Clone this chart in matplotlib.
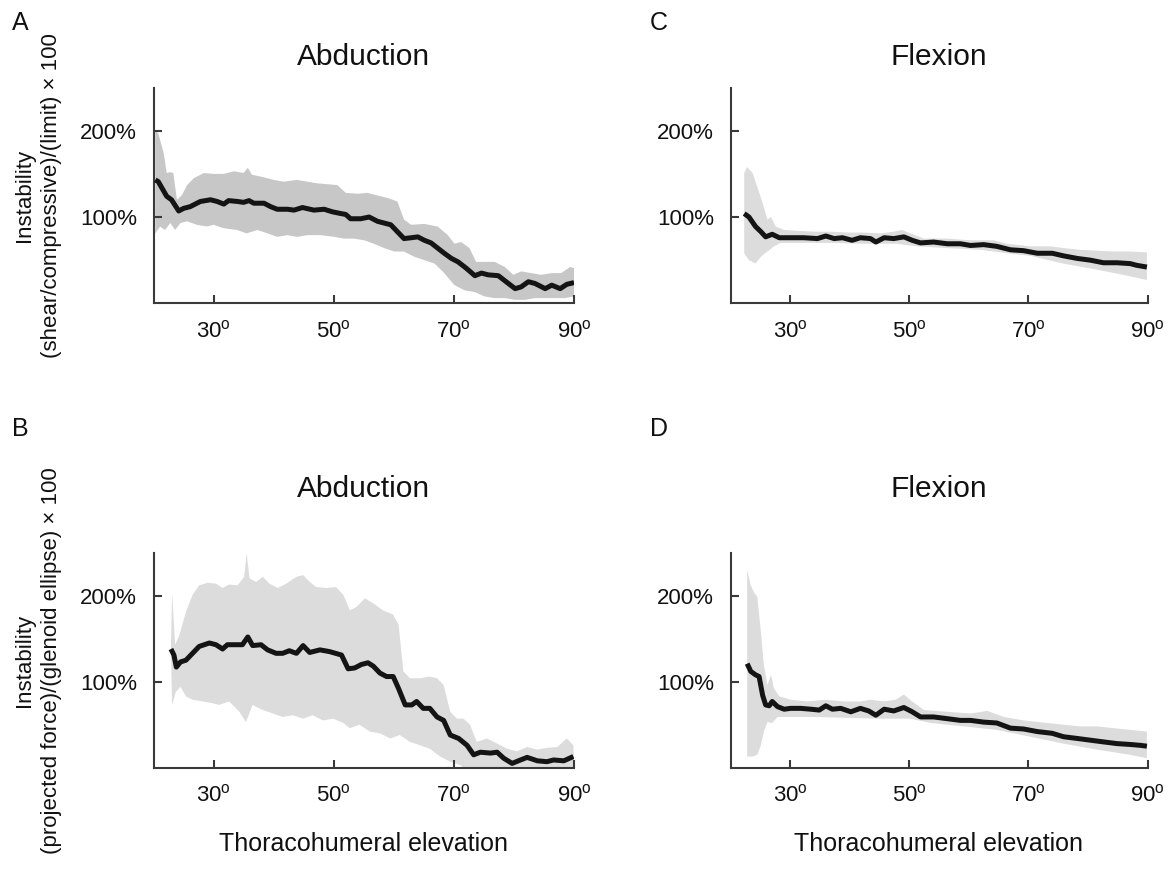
import numpy as np
import matplotlib
matplotlib.use("Agg")
import matplotlib.pyplot as plt

plt.rcParams['font.family'] = ['Liberation Sans', 'DejaVu Sans']
plt.rcParams['mathtext.fontset'] = 'custom'
plt.rcParams['mathtext.rm'] = 'Liberation Sans'

# ---------------- data ----------------
x_ticks = [30, 50, 70, 90]
x_ticklabels = ['30$^{\\mathrm{o}}$', '50$^{\\mathrm{o}}$', '70$^{\\mathrm{o}}$', '90$^{\\mathrm{o}}$']
y_ticks = [100, 200]
y_ticklabels = ['100%', '200%']

titles = ['Abduction', 'Flexion', 'Abduction', 'Flexion']
panel_letters = ['A', 'C', 'B', 'D']
ylabel_top = 'Instability\n(shear/compressive)/(limit) × 100'
ylabel_bottom = 'Instability\n(projected force)/(glenoid ellipse) × 100'
xlabel = 'Thoracohumeral elevation'

# Panel A
A_mean_x = [20.3, 20.8, 22.2, 23.0, 24.2, 25.0, 26.1, 27.8, 29.5, 30.6, 31.7, 32.5, 34.0, 35.0, 35.9,
            36.7, 38.4, 39.5, 40.6, 42.3, 43.4, 44.8, 46.7, 48.4, 49.8, 51.2, 52.0, 52.8, 54.5, 55.9,
            57.3, 58.4, 59.5, 60.6, 61.7, 62.9, 64.0, 65.1, 66.2, 67.3, 68.4, 69.6, 70.7, 72.0, 73.5,
            74.6, 75.7, 77.4, 78.7, 80.2, 81.2, 82.4, 83.5, 85.2, 86.3, 87.7, 88.8, 90.0]
A_mean_y = [143, 141, 124, 120, 107, 110, 112, 118, 120, 118, 115, 119, 118, 117, 119,
            116, 116, 112, 109, 109, 108, 111, 108, 109, 106, 104, 103, 98, 98, 100,
            95, 93, 91, 83, 75, 76, 77, 73, 70, 64, 58, 52, 48, 41, 32,
            35, 33, 32, 25, 17, 19, 25, 23, 17, 21, 17, 22, 24]
A_up_x = [20.3, 20.8, 21.7, 22.2, 22.8, 23.3, 23.9, 24.7, 25.6, 26.7, 28.4, 30.0, 31.7, 33.4, 35.0,
          35.7, 36.4, 38.4, 40.0, 41.7, 43.9, 45.6, 47.3, 49.0, 50.6, 52.0, 54.0, 55.6, 57.3, 59.0,
          60.6, 61.7, 62.9, 65.1, 67.3, 69.0, 70.1, 71.2, 72.6, 73.7, 75.1, 76.8, 78.5, 79.9, 81.2,
          82.9, 84.5, 86.3, 87.9, 89.3, 90.0]
A_up_y = [201, 197, 174, 151, 152, 151, 120, 125, 137, 145, 151, 150, 150, 153, 151,
          157, 149, 146, 143, 141, 143, 141, 139, 138, 137, 128, 127, 128, 125, 122,
          118, 97, 91, 92, 89, 79, 69, 71, 64, 48, 48, 48, 42, 33, 37,
          35, 33, 35, 35, 42, 41]
A_lo_x = [20.3, 21.1, 21.9, 22.8, 23.6, 24.5, 25.6, 27.2, 28.9, 30.0, 31.7, 33.9, 35.5, 37.3, 39.0,
          40.6, 42.3, 43.9, 45.6, 47.8, 50.1, 51.7, 53.4, 55.1, 56.7, 58.4, 60.1, 61.7, 63.4, 65.1,
          66.8, 68.4, 70.1, 71.8, 73.5, 75.1, 76.8, 78.5, 80.2, 81.8, 83.5, 85.2, 86.9, 88.5, 90.0]
A_lo_y = [81, 89, 85, 93, 85, 93, 95, 91, 89, 91, 87, 85, 81, 85, 81,
          77, 79, 77, 79, 79, 77, 75, 75, 73, 69, 64, 60, 60, 54, 50,
          46, 35, 21, 15, 13, 8, 6, 6, 4, 4, 6, 6, 6, 6, 8]

# Panel C
C_mean_x = [22.3, 23.1, 24.2, 25.1, 25.9, 27.0, 28.2, 30.1, 32.3, 34.6, 36.0, 37.4, 38.8, 40.4, 41.8,
            43.5, 44.4, 45.8, 47.4, 49.1, 50.5, 51.9, 54.1, 56.4, 58.6, 60.3, 62.5, 64.7, 67.0, 69.2,
            71.5, 74.0, 75.9, 78.2, 80.4, 82.6, 84.9, 87.1, 88.2, 89.9]
C_mean_y = [104, 100, 89, 83, 77, 80, 76, 76, 76, 75, 78, 75, 76, 73, 76,
            75, 71, 76, 75, 77, 73, 70, 71, 69, 69, 67, 68, 66, 62, 61,
            58, 58, 55, 52, 50, 47, 47, 46, 44, 42]
C_up_x = [22.3, 22.8, 23.7, 24.5, 25.4, 26.2, 26.8, 27.6, 29.0, 31.2, 34.0, 36.8, 39.6, 42.4, 45.2,
          47.4, 48.8, 50.2, 52.5, 56.4, 60.3, 64.2, 66.4, 70.3, 73.7, 75.9, 78.7, 81.5, 84.3, 87.1, 89.9]
C_up_y = [151, 158, 151, 135, 116, 97, 100, 89, 85, 84, 83, 83, 82, 82, 81,
          83, 85, 81, 75, 75, 73, 73, 69, 66, 66, 64, 62, 61, 60, 60, 59]
C_lo_x = [22.3, 23.1, 24.2, 25.1, 26.2, 27.3, 28.4, 31.2, 36.8, 42.4, 48.0, 51.3, 56.4, 62.0, 66.4,
          70.3, 75.9, 81.5, 85.9, 89.9]
C_lo_y = [58, 50, 46, 54, 60, 66, 70, 70, 70, 69, 69, 66, 64, 62, 58, 55, 46, 39, 33, 27]

# Panel B
B_mean_x = [22.9, 23.4, 23.8, 24.5, 25.4, 26.5, 27.6, 29.3, 30.4, 31.5, 32.3, 33.7, 34.8, 35.7, 36.5,
            37.9, 39.0, 40.4, 41.5, 42.6, 43.8, 44.9, 46.0, 47.7, 49.3, 51.3, 52.4, 53.5, 54.6, 55.7,
            56.6, 57.7, 58.8, 59.9, 60.8, 61.9, 63.0, 63.8, 64.9, 66.0, 67.2, 68.3, 69.4, 70.8, 72.2,
            73.3, 74.4, 76.1, 77.2, 78.3, 79.7, 81.1, 82.2, 83.9, 85.5, 86.6, 88.3, 89.9]
B_mean_y = [138, 131, 117, 123, 125, 133, 141, 145, 143, 138, 143, 143, 143, 152, 142,
            143, 137, 133, 133, 136, 133, 142, 134, 137, 135, 131, 115, 116, 120, 122,
            118, 110, 106, 106, 92, 73, 73, 77, 69, 69, 59, 55, 38, 34, 26,
            15, 18, 17, 18, 11, 5, 9, 12, 8, 7, 9, 8, 13]
B_up_x = [22.9, 23.1, 23.6, 24.3, 25.4, 26.5, 27.6, 29.0, 30.4, 31.5, 32.6, 34.0, 35.1, 35.5, 36.0,
          37.1, 38.2, 39.3, 40.7, 42.1, 43.8, 44.9, 46.0, 47.1, 48.8, 50.4, 51.6, 52.7, 53.8, 55.2,
          56.6, 58.2, 59.9, 60.8, 61.6, 62.7, 64.4, 66.0, 67.2, 68.3, 69.4, 70.5, 71.6, 72.7, 73.8,
          75.5, 77.2, 78.9, 80.5, 82.2, 83.9, 85.5, 87.2, 88.8, 89.9]
B_up_y = [139, 203, 143, 154, 181, 201, 212, 215, 214, 209, 213, 212, 222, 249, 220,
          216, 222, 214, 209, 214, 222, 224, 216, 210, 209, 210, 201, 183, 187, 197,
          191, 183, 178, 166, 112, 104, 104, 106, 104, 96, 65, 57, 57, 50, 30,
          34, 28, 22, 19, 24, 21, 23, 24, 34, 26]
B_lo_x = [22.9, 23.1, 23.7, 24.5, 25.4, 26.5, 28.2, 29.8, 30.9, 32.6, 34.3, 35.4, 36.5, 38.2, 39.9,
          41.5, 43.2, 44.9, 46.5, 48.2, 49.9, 51.6, 52.7, 54.3, 56.0, 57.7, 59.4, 61.0, 62.7, 64.4,
          66.0, 67.7, 69.4, 71.1, 72.5, 90.0]
B_lo_y = [135, 73, 88, 94, 83, 79, 77, 75, 73, 77, 65, 53, 73, 67, 63,
          59, 61, 57, 61, 55, 57, 52, 46, 50, 42, 40, 34, 38, 30, 26,
          22, 13, 7, 3, -5, -5]

# Panel D
D_mean_x = [22.8, 23.4, 24.2, 24.8, 25.4, 25.9, 26.5, 27.0, 27.9, 29.0, 30.1, 31.8, 33.5, 34.9, 36.0,
            37.1, 38.5, 40.2, 41.8, 43.2, 44.4, 45.8, 47.4, 49.1, 50.5, 51.9, 54.1, 56.4, 58.6, 60.3,
            62.5, 64.7, 67.0, 69.2, 71.5, 74.0, 75.9, 78.2, 80.4, 82.6, 84.9, 87.1, 88.8, 89.9]
D_mean_y = [121, 112, 108, 106, 84, 73, 72, 77, 71, 68, 69, 69, 68, 67, 72,
            68, 69, 65, 69, 66, 61, 68, 66, 70, 65, 59, 59, 57, 55, 55,
            53, 52, 46, 45, 42, 40, 36, 34, 32, 30, 28, 27, 26, 25]
D_up_x = [22.8, 23.4, 24.0, 24.5, 25.1, 25.6, 26.2, 26.8, 27.3, 28.2, 30.1, 32.9, 36.0, 39.0, 41.8,
          43.5, 45.8, 47.7, 49.1, 50.5, 52.5, 56.4, 60.3, 63.1, 65.9, 69.2, 73.1, 75.9, 78.7, 81.5,
          84.3, 87.1, 89.9]
D_up_y = [230, 212, 203, 199, 158, 119, 96, 108, 92, 83, 79, 77, 79, 77, 77,
          79, 77, 79, 85, 77, 67, 65, 63, 66, 59, 55, 52, 50, 48, 48,
          46, 44, 42]
D_lo_x = [22.8, 23.7, 24.5, 25.1, 25.6, 26.2, 27.0, 27.9, 29.6, 34.0, 39.6, 45.2, 50.2, 53.6, 59.2,
          64.7, 70.3, 75.9, 81.5, 87.1, 89.9]
D_lo_y = [13, 13, 15, 26, 42, 53, 52, 59, 59, 59, 58, 57, 57, 52, 48, 44, 36, 28, 21, 15, 11]

# ---------------- figure ----------------
W, H = 1169, 869
fig = plt.figure(figsize=(W / 100, H / 100), dpi=100)

def rect(l, r, t, b):
    return [l / W, 1 - b / H, (r - l) / W, (b - t) / H]

panels = [
    dict(rect=rect(153.5, 574, 87.6, 303.3), mean=(A_mean_x, A_mean_y), up=(A_up_x, A_up_y),
         lo=(A_lo_x, A_lo_y), band='#c7c7c7', title=titles[0], pad=16, ylabel=ylabel_top,
         letter=panel_letters[0], lpos=(12, 30), xlabel=False),
    dict(rect=rect(730.5, 1147.5, 87.6, 303.3), mean=(C_mean_x, C_mean_y), up=(C_up_x, C_up_y),
         lo=(C_lo_x, C_lo_y), band='#dcdcdc', title=titles[1], pad=16, ylabel=None,
         letter=panel_letters[1], lpos=(650, 30), xlabel=False),
    dict(rect=rect(153.5, 574, 552.7, 767.7), mean=(B_mean_x, B_mean_y), up=(B_up_x, B_up_y),
         lo=(B_lo_x, B_lo_y), band='#dcdcdc', title=titles[2], pad=40, ylabel=ylabel_bottom,
         letter=panel_letters[2], lpos=(12, 436), xlabel=True),
    dict(rect=rect(730.5, 1147.5, 552.7, 767.7), mean=(D_mean_x, D_mean_y), up=(D_up_x, D_up_y),
         lo=(D_lo_x, D_lo_y), band='#dcdcdc', title=titles[3], pad=40, ylabel=None,
         letter=panel_letters[3], lpos=(650, 436), xlabel=True),
]

for p in panels:
    ax = fig.add_axes(p['rect'])
    ux, uy = p['up']
    lx, ly = p['lo']
    ax.fill(list(ux) + list(lx)[::-1], list(uy) + list(ly)[::-1],
            color=p['band'], lw=0, zorder=1)
    mx, my = p['mean']
    ax.plot(mx, my, color='#141414', lw=3.6, solid_joinstyle='round',
            solid_capstyle='butt', zorder=3)
    ax.set_xlim(20, 90)
    ax.set_ylim(0, 250)
    ax.set_xticks(x_ticks)
    ax.set_xticklabels(x_ticklabels)
    ax.set_yticks(y_ticks)
    ax.set_yticklabels(y_ticklabels)
    for s in ['top', 'right']:
        ax.spines[s].set_visible(False)
    for s in ['left', 'bottom']:
        ax.spines[s].set_linewidth(1.5)
        ax.spines[s].set_color('#3a3a3a')
    ax.tick_params(direction='in', length=6, width=1.5, color='#3a3a3a',
                   labelsize=16, pad=12, labelcolor='#111111')
    ax.set_title(p['title'], fontsize=21.5, pad=p['pad'], color='#111111')
    if p['ylabel']:
        ax.set_ylabel(p['ylabel'], fontsize=16, linespacing=1.35, color='#111111')
        ax.yaxis.set_label_coords(-0.218, 0.5)
    if p['xlabel']:
        ax.set_xlabel(xlabel, fontsize=18, color='#111111')
        ax.xaxis.set_label_coords(0.5, -0.297)
    fig.text(p['lpos'][0] / W, 1 - p['lpos'][1] / H, p['letter'], fontsize=18,
             ha='left', va='baseline', color='#111111')

fig.savefig('out.png', dpi=100)
